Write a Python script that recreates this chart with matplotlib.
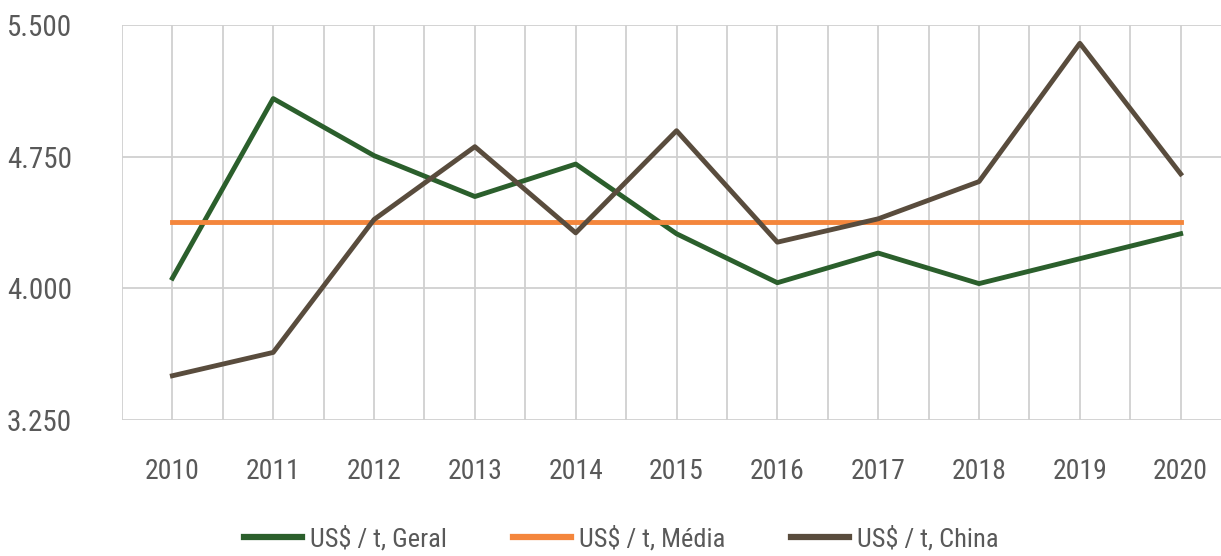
import matplotlib
matplotlib.use("Agg")
import matplotlib.pyplot as plt
from matplotlib import font_manager

years = ["2010", "2011", "2012", "2013", "2014", "2015", "2016", "2017", "2018", "2019", "2020"]
geral = [4.058, 5.081, 4.756, 4.523, 4.708, 4.311, 4.032, 4.201, 4.027, 4.169, 4.311]
media = [4.377] * 11
china = [3.502, 3.635, 4.392, 4.807, 4.316, 4.898, 4.263, 4.396, 4.608, 5.396, 4.652]
yticks = [3.25, 4.0, 4.75, 5.5]
ytick_labels = ["3.250", "4.000", "4.750", "5.500"]

available = {f.name for f in font_manager.fontManager.ttflist}
family = "DejaVu Sans"
for cand in ["Roboto Condensed", "Liberation Sans Narrow", "DejaVu Sans Condensed"]:
    if cand in available:
        family = cand
        break
plt.rcParams["font.family"] = [family, "DejaVu Sans"]
plt.rcParams["font.stretch"] = "condensed"

text_color = "#595959"
grid_color = "#d0d0d0"

fig = plt.figure(figsize=(12.21, 5.56), dpi=100)
ax = fig.add_axes([0.0999, 0.2446, 0.9001, 0.7104])

x = list(range(len(years)))
ax.plot(x, geral, color="#2b5f2c", linewidth=3.5, label="US$ / t, Geral", zorder=3)
ax.plot(x, media, color="#f4863c", linewidth=3.5, label="US$ / t, Média", zorder=3)
ax.plot(x, china, color="#594c3d", linewidth=3.5, label="US$ / t, China", zorder=3)

ax.set_xlim(-0.5, 10.4)
ax.set_ylim(3.25, 5.5)
ax.set_yticks(yticks)
ax.set_yticklabels(ytick_labels)
ax.set_xticks(x)
ax.set_xticklabels(years)

# gridlines at categories and category boundaries
for xi in [i * 0.5 - 0.5 for i in range(23)]:
    if xi <= 10.4:
        ax.axvline(xi, color=grid_color, linewidth=1.3, zorder=1)
for yv in yticks:
    ax.axhline(yv, color=grid_color, linewidth=1.3, zorder=1)

for s in ax.spines.values():
    s.set_visible(False)
ax.tick_params(axis="both", length=0, labelsize=21, colors=text_color)
ax.tick_params(axis="x", labelsize=20, pad=27)
ax.tick_params(axis="y", pad=36)

leg = fig.legend(loc="lower center", bbox_to_anchor=(0.509, -0.035), ncol=3,
                 frameon=False, fontsize=19, handlelength=2.2, columnspacing=2.5,
                 handletextpad=0.3)
for t in leg.get_texts():
    t.set_color(text_color)
for h in leg.get_lines():
    h.set_linewidth(4.5)

fig.savefig("out.png", dpi=100)
